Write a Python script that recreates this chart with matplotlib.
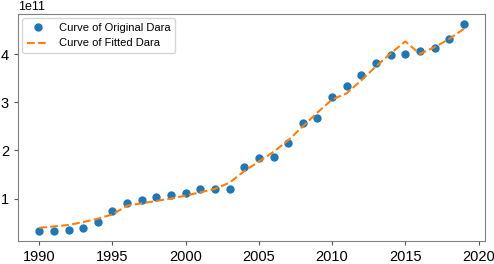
import matplotlib
matplotlib.use("Agg")
import matplotlib.pyplot as plt
import numpy as np

plt.rcParams['font.family'] = ['Liberation Sans', 'DejaVu Sans']

years = list(range(1990, 2020))
original = [0.33, 0.33, 0.34, 0.39, 0.52, 0.735, 0.90, 0.97, 1.035, 1.08,
            1.12, 1.19, 1.20, 1.19, 1.65, 1.84, 1.87, 2.15, 2.57, 2.67,
            3.12, 3.34, 3.57, 3.83, 3.98, 4.01, 4.06, 4.13, 4.31, 4.625]
fitted = [0.39, 0.42, 0.45, 0.51, 0.58, 0.67, 0.85, 0.90, 0.95, 1.00,
          1.06, 1.13, 1.20, 1.33, 1.57, 1.77, 1.97, 2.21, 2.50, 2.79,
          3.06, 3.19, 3.46, 3.75, 4.02, 4.27, 4.01, 4.15, 4.32, 4.53]
scale = 1e11

fig = plt.figure(figsize=(4.94, 2.64), dpi=100)
ax = fig.add_axes([0.0364, 0.087, 0.982 - 0.0364, 0.947 - 0.087])
ax.plot(years, np.array(original) * scale, 'o', color='#1f77b4', markersize=5,
        label='Curve of Original Dara')
ax.plot(years, np.array(fitted) * scale, '--', color='#ff7f0e', linewidth=1.5,
        label='Curve of Fitted Dara')
ax.set_xticks([1990, 1995, 2000, 2005, 2010, 2015, 2020])
ax.set_yticks([1e11, 2e11, 3e11, 4e11])
ax.tick_params(labelsize=10.5, length=3, color='#555555')
ax.yaxis.get_offset_text().set_fontsize(9)
for s in ax.spines.values():
    s.set_color('#808080')
ax.legend(loc='upper left', fontsize=8.0, borderaxespad=0.4, handletextpad=0.9)
fig.savefig('out.png', dpi=100)
